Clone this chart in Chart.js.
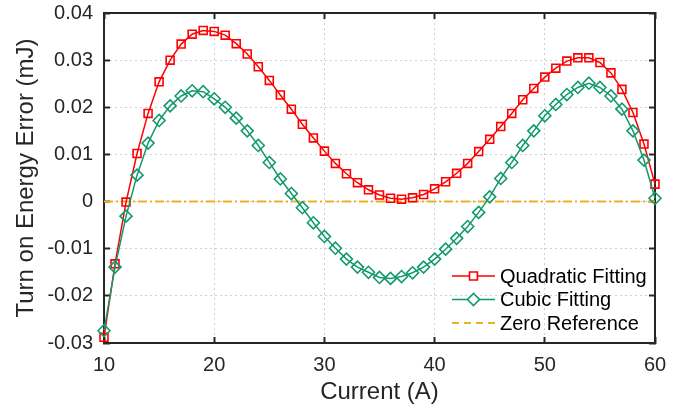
<!DOCTYPE html>
<html>
<head>
<meta charset="utf-8">
<script src="https://cdn.jsdelivr.net/npm/chart.js@4.4.1/dist/chart.umd.min.js"></script>
<style>
  html, body { margin: 0; padding: 0; background: #fff; }
  #wrap { width: 691px; height: 410px; }
</style>
</head>
<body>
<div id="wrap"><canvas id="myChart" width="691" height="410"></canvas></div>
<script>
// x values (A)
const current = [10, 11, 12, 13, 14, 15, 16, 17, 18, 19, 20, 21, 22, 23, 24, 25, 26, 27, 28, 29, 30,
    31, 32, 33, 34, 35, 36, 37, 38, 39, 40, 41, 42, 43, 44, 45, 46, 47, 48, 49, 50,
    51, 52, 53, 54, 55, 56, 57, 58, 59, 60];

const quadratic = [-0.0288, -0.0132, -0.0001, 0.0102, 0.0187, 0.0254, 0.0300, 0.0334, 0.0355, 0.0363, 0.0361,
    0.0353, 0.0335, 0.0313, 0.0286, 0.0257, 0.0226, 0.0196, 0.0164, 0.0135, 0.0107,
    0.0081, 0.0059, 0.0040, 0.0025, 0.0014, 0.0007, 0.0005, 0.0008, 0.0015, 0.0027,
    0.0042, 0.0060, 0.0081, 0.0106, 0.0132, 0.0159, 0.0187, 0.0216, 0.0240, 0.0264,
    0.0283, 0.0298, 0.0305, 0.0305, 0.0295, 0.0273, 0.0238, 0.0189, 0.0122, 0.0037];

const cubic = [-0.0274, -0.0139, -0.0031, 0.0056, 0.0124, 0.0172, 0.0203, 0.0224, 0.0235, 0.0233, 0.0218,
    0.0200, 0.0177, 0.0150, 0.0119, 0.0083, 0.0048, 0.0017, -0.0013, -0.0045, -0.0074,
    -0.0099, -0.0122, -0.0139, -0.0150, -0.0161, -0.0163, -0.0159, -0.0151, -0.0139, -0.0122,
    -0.0101, -0.0078, -0.0053, -0.0023, 0.0010, 0.0049, 0.0083, 0.0119, 0.0150, 0.0182,
    0.0206, 0.0227, 0.0242, 0.0251, 0.0242, 0.0224, 0.0196, 0.0150, 0.0088, 0.0007];

const zeroX = [10, 60];
const zeroY = [0, 0];

const xTicks = [10, 20, 30, 40, 50, 60];
const yTicks = [-0.03, -0.02, -0.01, 0, 0.01, 0.02, 0.03, 0.04];

const FONT = "'Liberation Sans', Arial, sans-serif";
const AXIS = '#262626';
const GRID = '#d0d0d0';
const RED = '#ff0000';
const GREEN = '#129a6c';
const YELLOW = '#edb120';

function pairs(xs, ys) {
    return xs.map((x, i) => ({ x: x, y: ys[i] }));
}

// grid + inward tick marks + solid axis line, shared by all four sides
function boxGrid(onArea) {
    return {
        display: true,
        drawOnChartArea: onArea,
        color: GRID,
        lineWidth: 1,
        drawTicks: true,
        tickLength: -6,
        tickColor: AXIS,
        tickWidth: 2
    };
}
const boxBorder = { display: true, color: AXIS, width: 2, dash: [2, 3] };

// matlab style legend in the lower right corner: line + marker
const insideLegend = {
    id: 'insideLegend',
    afterDraw(chart) {
        const c = chart.ctx;
        const x0 = 452, x1 = 495, textX = 500;
        let y = 276;
        c.save();
        c.font = '20px ' + FONT;
        c.textBaseline = 'middle';
        chart.data.datasets.forEach(ds => {
            c.strokeStyle = ds.borderColor;
            c.lineWidth = ds.borderWidth;
            c.setLineDash(ds.borderDash ? [7, 5] : []);
            c.beginPath();
            c.moveTo(x0, y); c.lineTo(x1, y);
            c.stroke();
            c.setLineDash([]);
            if (ds.pointRadius > 0) {
                c.fillStyle = '#ffffff';
                c.strokeStyle = ds.borderColor;
                c.lineWidth = ds.pointBorderWidth;
                Chart.helpers.drawPoint(c, {
                    pointStyle: ds.pointStyle,
                    radius: ds.pointRadius,
                    borderWidth: ds.pointBorderWidth,
                    rotation: 0
                }, (x0 + x1) / 2, y);
            }
            c.fillStyle = '#000';
            c.fillText(ds.label, textX, y + 1);
            y += 23.5;
        });
        c.restore();
    }
};

const ctx = document.getElementById('myChart').getContext('2d');
const myChart = new Chart(ctx, {
    type: 'line',
    data: {
        datasets: [
            {
                label: 'Quadratic Fitting',
                data: pairs(current, quadratic),
                borderColor: RED,
                borderWidth: 1.5,
                pointStyle: 'rect',
                pointRadius: 5.6,
                pointBorderWidth: 1.6,
                pointBorderColor: RED,
                pointBackgroundColor: 'rgba(0,0,0,0)',
                order: 2
            },
            {
                label: 'Cubic Fitting',
                data: pairs(current, cubic),
                borderColor: GREEN,
                borderWidth: 1.5,
                pointStyle: 'rectRot',
                pointRadius: 6,
                pointBorderWidth: 1.6,
                pointBorderColor: GREEN,
                pointBackgroundColor: 'rgba(0,0,0,0)',
                order: 1
            },
            {
                label: 'Zero Reference',
                data: pairs(zeroX, zeroY),
                borderColor: YELLOW,
                borderWidth: 2,
                borderDash: [9, 3, 2, 3],
                pointRadius: 0,
                order: 3
            }
        ]
    },
    options: {
        responsive: false,
        animation: false,
        clip: false,
        layout: { padding: { top: 13, right: 36, left: 0, bottom: 0 } },
        plugins: {
            legend: { display: false },
            tooltip: { enabled: false }
        },
        scales: {
            x: {
                type: 'linear',
                position: 'bottom',
                min: 10,
                max: 60,
                afterBuildTicks(scale) { scale.ticks = xTicks.map(v => ({ value: v })); },
                afterFit(scale) {
                    scale.height = 67;
                    scale.paddingLeft = 0;
                    scale.paddingRight = 0;
                },
                grid: boxGrid(true),
                border: boxBorder,
                ticks: {
                    color: AXIS,
                    padding: 16,
                    font: { family: FONT, size: 20 },
                    maxRotation: 0
                },
                title: {
                    display: true,
                    text: 'Current (A)',
                    color: AXIS,
                    font: { family: FONT, size: 24 },
                    padding: { top: 0, bottom: 3 }
                }
            },
            x2: {
                type: 'linear',
                position: 'top',
                min: 10,
                max: 60,
                afterBuildTicks(scale) { scale.ticks = xTicks.map(v => ({ value: v })); },
                afterFit(scale) {
                    scale.height = 0;
                    scale.paddingLeft = 0;
                    scale.paddingRight = 0;
                },
                grid: boxGrid(false),
                border: boxBorder,
                ticks: { display: false }
            },
            y: {
                type: 'linear',
                position: 'left',
                min: -0.03,
                max: 0.04,
                afterBuildTicks(scale) { scale.ticks = yTicks.map(v => ({ value: v })); },
                afterFit(scale) {
                    scale.width = 104;
                    scale.paddingTop = 0;
                    scale.paddingBottom = 0;
                },
                grid: boxGrid(true),
                border: boxBorder,
                ticks: {
                    color: AXIS,
                    padding: 17,
                    font: { family: FONT, size: 20 },
                    callback: v => (Math.abs(v) < 1e-9 ? '0' : String(Number(v.toFixed(2))))
                },
                title: {
                    display: true,
                    text: 'Turn on Energy Error (mJ)',
                    color: AXIS,
                    font: { family: FONT, size: 24 },
                    padding: { top: 12, bottom: 0 }
                }
            },
            y2: {
                type: 'linear',
                position: 'right',
                min: -0.03,
                max: 0.04,
                afterBuildTicks(scale) { scale.ticks = yTicks.map(v => ({ value: v })); },
                afterFit(scale) {
                    scale.width = 0;
                    scale.paddingTop = 0;
                    scale.paddingBottom = 0;
                },
                grid: boxGrid(false),
                border: boxBorder,
                ticks: { display: false }
            }
        }
    },
    plugins: [insideLegend]
});
</script>
</body>
</html>
